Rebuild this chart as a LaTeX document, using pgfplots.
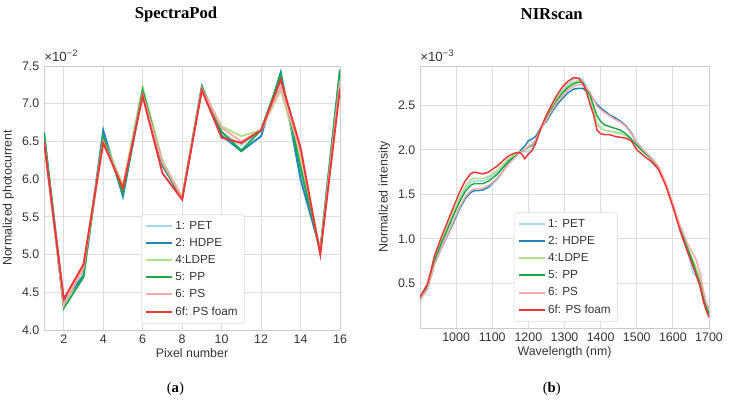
\documentclass[border=0pt]{standalone}
\usepackage{pgfplots}
\pgfplotsset{compat=1.18}
\usepackage{pgfplotstable}
\usepackage{fontspec}
\setmainfont{Liberation Sans}
\newfontfamily\seriffont{Liberation Serif}

\definecolor{cPET}{HTML}{A6D6EA}
\definecolor{cHDPE}{HTML}{1F84C0}
\definecolor{cLDPE}{HTML}{B2DF8A}
\definecolor{cPP}{HTML}{1AAB48}
\definecolor{cPS}{HTML}{FBA8A7}
\definecolor{cFOAM}{HTML}{F03535}
\definecolor{txt}{HTML}{333333}

\pgfplotstableread{
x pet hdpe ldpe pp ps foam
1 6.60 6.62 6.55 6.60 6.50 6.50
2 4.35 4.38 4.33 4.29 4.33 4.41
3 4.78 4.72 4.85 4.70 4.82 4.87
4 6.60 6.65 6.55 6.57 6.50 6.48
5 5.82 5.77 5.92 5.82 5.90 5.88
6 7.17 7.15 7.22 7.18 7.12 7.10
7 6.20 6.18 6.25 6.20 6.22 6.08
8 5.75 5.74 5.76 5.75 5.76 5.73
9 7.20 7.22 7.20 7.23 7.20 7.18
10 6.62 6.58 6.70 6.63 6.68 6.55
11 6.45 6.37 6.57 6.38 6.50 6.48
12 6.65 6.57 6.65 6.65 6.65 6.65
13 7.30 7.42 7.18 7.38 7.22 7.32
14 6.10 6.00 6.25 6.15 6.35 6.42
15 5.05 5.06 5.05 5.05 5.03 5.00
16 7.42 7.45 7.40 7.45 7.30 7.20
}\spectrapod

\pgfplotstableread{
x pet hdpe ldpe pp ps foam
900 0.33 0.31 0.33 0.33 0.31 0.35
910 0.40 0.38 0.40 0.40 0.38 0.42
920 0.45 0.44 0.46 0.46 0.43 0.49
930 0.58 0.57 0.61 0.60 0.56 0.64
940 0.74 0.72 0.77 0.76 0.71 0.81
950 0.84 0.81 0.88 0.86 0.81 0.92
960 0.94 0.90 0.98 0.96 0.90 1.03
975 1.09 1.03 1.13 1.10 1.04 1.18
990 1.24 1.16 1.28 1.24 1.18 1.33
1000 1.34 1.25 1.37 1.33 1.27 1.43
1010 1.44 1.34 1.47 1.42 1.36 1.53
1025 1.56 1.45 1.59 1.53 1.47 1.65
1040 1.63 1.52 1.66 1.60 1.54 1.73
1050 1.65 1.54 1.68 1.62 1.56 1.75
1060 1.65 1.54 1.68 1.62 1.56 1.74
1075 1.65 1.55 1.68 1.62 1.57 1.73
1090 1.68 1.58 1.70 1.65 1.60 1.75
1100 1.71 1.62 1.73 1.68 1.63 1.78
1115 1.75 1.68 1.77 1.73 1.69 1.82
1130 1.82 1.76 1.84 1.80 1.76 1.88
1145 1.89 1.85 1.90 1.87 1.84 1.93
1160 1.93 1.91 1.94 1.92 1.90 1.96
1170 1.96 1.95 1.96 1.95 1.94 1.97
1180 1.98 2.00 1.98 1.98 1.98 1.96
1190 1.98 2.04 2.00 2.00 2.00 1.90
1200 1.98 2.10 2.03 2.03 2.04 1.95
1210 2.01 2.12 2.05 2.05 2.06 1.99
1220 2.08 2.15 2.10 2.10 2.11 2.07
1235 2.24 2.25 2.24 2.24 2.24 2.25
1250 2.36 2.32 2.36 2.35 2.34 2.39
1265 2.48 2.42 2.48 2.46 2.44 2.51
1280 2.59 2.51 2.58 2.56 2.54 2.62
1295 2.68 2.58 2.66 2.64 2.61 2.71
1310 2.74 2.64 2.72 2.70 2.67 2.77
1325 2.79 2.68 2.76 2.74 2.71 2.81
1340 2.81 2.69 2.78 2.76 2.73 2.80
1350 2.79 2.69 2.76 2.75 2.73 2.75
1360 2.72 2.66 2.70 2.70 2.70 2.66
1370 2.58 2.62 2.60 2.62 2.65 2.52
1380 2.42 2.57 2.46 2.50 2.57 2.40
1390 2.28 2.51 2.30 2.38 2.49 2.22
1400 2.24 2.47 2.25 2.32 2.45 2.18
1410 2.22 2.44 2.22 2.28 2.42 2.17
1425 2.21 2.39 2.21 2.26 2.38 2.17
1440 2.19 2.36 2.20 2.24 2.34 2.15
1455 2.18 2.32 2.19 2.22 2.31 2.14
1470 2.16 2.27 2.16 2.18 2.26 2.13
1485 2.11 2.19 2.11 2.12 2.18 2.10
1500 2.05 2.08 2.05 2.05 2.08 2.00
1520 1.97 1.99 1.97 1.97 1.99 1.93
1540 1.90 1.91 1.90 1.90 1.91 1.87
1560 1.80 1.81 1.80 1.80 1.81 1.78
1580 1.62 1.62 1.62 1.62 1.63 1.60
1600 1.38 1.38 1.38 1.38 1.39 1.36
1620 1.12 1.12 1.12 1.12 1.15 1.09
1640 0.88 0.88 0.91 0.90 0.95 0.86
1655 0.62 0.72 0.77 0.74 0.84 0.70
1665 0.58 0.59 0.67 0.62 0.76 0.59
1675 0.55 0.48 0.55 0.50 0.62 0.47
1685 0.34 0.31 0.37 0.33 0.41 0.29
1692 0.24 0.22 0.27 0.24 0.29 0.20
1700 0.18 0.16 0.19 0.16 0.21 0.12
}\nirscan

\pgfplotsset{
  sb/.style={
    scale only axis,
    clip mode=individual,
    axis line style={draw=black!20, line width=0.6pt},
    grid=major,
    grid style={draw=black!13, line width=0.6pt},
    major tick length=0pt,
    tick style={draw=none},
    ticklabel style={font=\fontsize{9.3}{10}\selectfont, text=txt},
    label style={font=\fontsize{9.3}{10}\selectfont, text=txt},
    /pgf/number format/assume math mode=true,
    /pgf/number format/fixed,
    /pgf/number format/fixed zerofill,
    /pgf/number format/precision=1,
    /pgf/number format/1000 sep={},
    scaled ticks=false,
    legend cell align=left,
    legend image code/.code={\draw[##1, line width=1.5pt] (0pt,0pt) -- (19pt,0pt);},
    legend style={draw=black!15, rounded corners=2pt, fill=white,
      font=\fontsize{8.8}{10}\selectfont, text=txt,
      row sep=1.2pt, inner xsep=3pt, inner ysep=3pt},
  },
}

\begin{document}
\begin{tikzpicture}
\path[use as bounding box] (0,0) rectangle (547.5pt,300.75pt);

\begin{axis}[sb,
  at={(33pt,53.25pt)}, anchor=south west,
  width=222pt, height=198pt,
  xmin=1, xmax=16, ymin=4.0, ymax=7.5,
  xtick={2,4,...,16},
  xticklabel style={/pgf/number format/precision=0, /pgf/number format/fixed zerofill=false},
  ytick={4.0,4.5,...,7.5},
  xlabel={Pixel number},
  ylabel={Normalized photocurrent},
  ylabel style={yshift=-1pt},
  xlabel style={yshift=3pt},
  every axis plot/.append style={line width=1.4pt},
  legend style={at={(0.328,0.023)}, anchor=south west},
]
\addplot[cPET] table[x=x,y=pet]{\spectrapod};
\addplot[cHDPE] table[x=x,y=hdpe]{\spectrapod};
\addplot[cLDPE] table[x=x,y=ldpe]{\spectrapod};
\addplot[cPP] table[x=x,y=pp]{\spectrapod};
\addplot[cPS] table[x=x,y=ps]{\spectrapod};
\addplot[cFOAM] table[x=x,y=foam]{\spectrapod};
\legend{1: PET, 2: HDPE, 4:LDPE, 5: PP, 6: PS, 6f: PS foam}
\node[anchor=south west, inner sep=0pt, font=\fontsize{10}{11}\selectfont, text=txt]
  at (rel axis cs:0,1) [yshift=3pt] {×10\raisebox{0.7ex}{\fontsize{7}{8}\selectfont −2}};
\end{axis}

\begin{axis}[sb,
  at={(315pt,54.75pt)}, anchor=south west,
  width=216.75pt, height=196.5pt,
  xmin=900, xmax=1700, ymin=0, ymax=2.94,
  xtick={1000,1100,...,1700},
  xticklabel style={/pgf/number format/precision=0, /pgf/number format/fixed zerofill=false},
  ytick={0.5,1.0,...,2.5},
  xlabel={Wavelength (nm)},
  ylabel={Normalized intensity},
  ylabel style={yshift=-1pt},
  xlabel style={yshift=3pt},
  every axis plot/.append style={line width=1.1pt},
  legend style={at={(0.325,0.023)}, anchor=south west},
]
\addplot[cPET] table[x=x,y=pet]{\nirscan};
\addplot[cHDPE] table[x=x,y=hdpe]{\nirscan};
\addplot[cLDPE] table[x=x,y=ldpe]{\nirscan};
\addplot[cPP] table[x=x,y=pp]{\nirscan};
\addplot[cPS] table[x=x,y=ps]{\nirscan};
\addplot[cFOAM] table[x=x,y=foam]{\nirscan};
\legend{1: PET, 2: HDPE, 4:LDPE, 5: PP, 6: PS, 6f: PS foam}
\node[anchor=south west, inner sep=0pt, font=\fontsize{10}{11}\selectfont, text=txt]
  at (rel axis cs:0,1) [yshift=3pt] {×10\raisebox{0.7ex}{\fontsize{7}{8}\selectfont −3}};
\end{axis}

\node[font=\seriffont\bfseries\fontsize{12.5}{14}\selectfont] at (132pt,290pt) {SpectraPod};
\node[font=\seriffont\bfseries\fontsize{12.5}{14}\selectfont] at (413.8pt,290pt) {NIRscan};
\node[font=\seriffont\fontsize{11}{13}\selectfont] at (131.5pt,9pt) {(\textbf{a})};
\node[font=\seriffont\fontsize{11}{13}\selectfont] at (413.8pt,9pt) {(\textbf{b})};
\end{tikzpicture}
\end{document}
